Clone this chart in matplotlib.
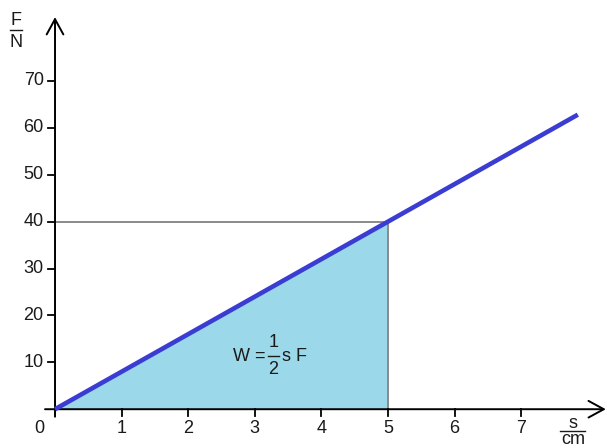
import matplotlib
matplotlib.use("Agg")
import matplotlib.pyplot as plt
import numpy as np

plt.rcParams["font.family"] = ["Liberation Sans", "DejaVu Sans"]

# data
x_ticks = [1, 2, 3, 4, 5, 6, 7]
y_ticks = [10, 20, 30, 40, 50, 60, 70]
s_line = [0, 7.85]
F_line = [0, 62.8]
s_mark, F_mark = 5, 40

TXT = "#1a1a1a"
BLUE = "#3b3dd2"
FILL = "#9bd9ea"
GREY = "#8a8a8a"
FS = 13

fig = plt.figure(figsize=(6.07, 4.48), dpi=100)
ax = fig.add_axes([0, 0, 1, 1])
ax.set_xlim(-0.826, 8.288)
ax.set_ylim(-8.27, 87.25)
ax.axis("off")

# shaded work area
ax.fill([0, s_mark, s_mark], [0, F_mark, 0], color=FILL, zorder=1, lw=0)
ax.plot([0, s_mark, s_mark], [F_mark, F_mark, 0], color=GREY, lw=1.4, zorder=2)

# axes with arrows
arrow = dict(arrowstyle="->,head_length=1.1,head_width=0.6",
             color="black", lw=1.4, shrinkA=0, shrinkB=0)
ax.annotate("", xy=(8.27, 0), xytext=(-0.15, 0), arrowprops=arrow, zorder=3)
ax.annotate("", xy=(0, 83.6), xytext=(0, -1.6), arrowprops=arrow, zorder=3)

# ticks
for t in x_ticks:
    ax.plot([t, t], [0, -1.5], color="black", lw=1.3, zorder=3)
    ax.text(t, -4.1, str(t), ha="center", va="center", fontsize=FS, color=TXT)
for t in y_ticks:
    ax.plot([-0.11, 0], [t, t], color="black", lw=1.3, zorder=3)
    ax.text(-0.17, t, str(t), ha="right", va="center", fontsize=FS, color=TXT)
ax.text(-0.23, -4.1, "0", ha="center", va="center", fontsize=FS, color=TXT)

# the line F(s)
ax.plot(s_line, F_line, color=BLUE, lw=3.3, solid_capstyle="butt", zorder=4)

# formula W = 1/2 s F
ax.text(2.92, 11.3, "W =", ha="center", va="center", fontsize=FS, color=TXT, zorder=5)
ax.text(3.28, 14.3, "1", ha="center", va="center", fontsize=FS, color=TXT, zorder=5)
ax.plot([3.2, 3.36], [11.4, 11.4], color=TXT, lw=1.0, zorder=5)
ax.text(3.28, 8.4, "2", ha="center", va="center", fontsize=FS, color=TXT, zorder=5)
ax.text(3.41, 11.3, "s F", ha="left", va="center", fontsize=FS, color=TXT, zorder=5)

# axis unit labels
ax.text(-0.585, 82.8, "F", ha="center", va="center", fontsize=FS, color=TXT)
ax.plot([-0.67, -0.5], [80.8, 80.8], color=TXT, lw=1.0)
ax.text(-0.585, 78.2, "N", ha="center", va="center", fontsize=FS, color=TXT)

ax.text(7.78, -3.1, "s", ha="center", va="center", fontsize=FS, color=TXT)
ax.plot([7.58, 7.96], [-4.6, -4.6], color=TXT, lw=1.0)
ax.text(7.78, -6.4, "cm", ha="center", va="center", fontsize=FS, color=TXT)

fig.savefig("out.png", dpi=100)
